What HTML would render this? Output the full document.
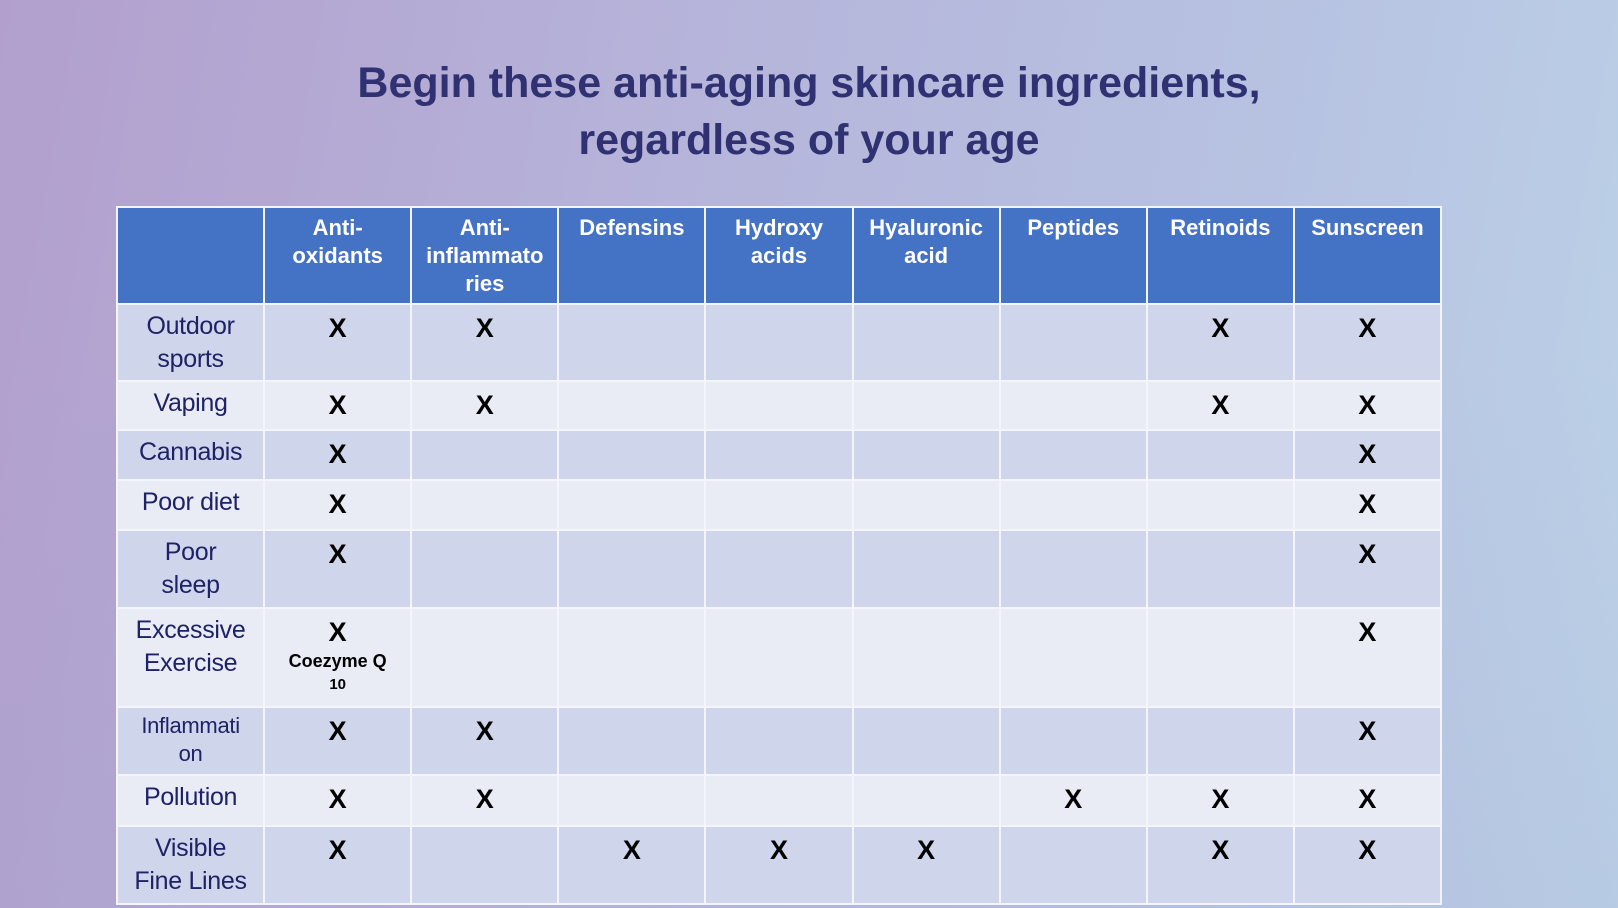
<!DOCTYPE html>
<html><head><meta charset="utf-8"><style>
html,body{margin:0;padding:0;}
body{width:1618px;height:908px;overflow:hidden;position:relative;
background:linear-gradient(100deg,#b29fcd 0%,#b6b4da 40%,#b7c3e2 75%,#bcd2e7 100%);
font-family:"Liberation Sans",sans-serif;}
.ov{position:absolute;inset:0;background:linear-gradient(180deg,rgba(0,0,0,0) 40%,rgba(150,150,200,0.12) 100%);}
h1{position:absolute;left:0;top:55px;width:1618px;margin:0;text-align:center;color:#2f3172;font-size:43px;line-height:57px;font-weight:bold;}
.g{position:absolute;left:116px;top:206px;width:1326px;display:grid;background:#f4f5fb;padding:2px;box-sizing:border-box;
grid-template-columns:repeat(9,1fr);column-gap:2px;row-gap:2px;
grid-template-rows:95px 75px 47px 48px 48px 76px 97px 66px 49px 76px;}
.g>div{text-align:center;box-sizing:border-box;}
.h{background:#4472c4;color:#fff;font-weight:bold;font-size:22px;line-height:28px;padding-top:6px;}
.a>div{background:#cfd5ea;} .b>div{background:#e9ebf5;}
.r{display:contents;}
.l{color:#1e2266;font-size:25px;line-height:33px;padding-top:5px;letter-spacing:-0.3px;}
.x{color:#000;font-weight:bold;font-size:27px;line-height:33px;padding-top:7px;}
.s{font-size:18px;line-height:25px;font-weight:bold;}
.s2{font-size:15px;line-height:22px;font-weight:bold;}
</style></head><body><div class="ov"></div>
<h1>Begin these anti-aging skincare ingredients,<br>regardless of your age</h1>
<div class="g">
<div class="h"></div><div class="h">Anti-<br>oxidants</div><div class="h">Anti-<br>inflammato<br>ries</div><div class="h">Defensins</div><div class="h">Hydroxy<br>acids</div><div class="h">Hyaluronic<br>acid</div><div class="h">Peptides</div><div class="h">Retinoids</div><div class="h">Sunscreen</div>
<div class="r a"><div class="l">Outdoor<br>sports</div><div class="x">X</div><div class="x">X</div><div></div><div></div><div></div><div></div><div class="x">X</div><div class="x">X</div></div>
<div class="r b"><div class="l">Vaping</div><div class="x">X</div><div class="x">X</div><div></div><div></div><div></div><div></div><div class="x">X</div><div class="x">X</div></div>
<div class="r a"><div class="l">Cannabis</div><div class="x">X</div><div></div><div></div><div></div><div></div><div></div><div></div><div class="x">X</div></div>
<div class="r b"><div class="l">Poor diet</div><div class="x">X</div><div></div><div></div><div></div><div></div><div></div><div></div><div class="x">X</div></div>
<div class="r a"><div class="l">Poor<br>sleep</div><div class="x">X</div><div></div><div></div><div></div><div></div><div></div><div></div><div class="x">X</div></div>
<div class="r b"><div class="l">Excessive<br>Exercise</div><div class="x">X<div class="s">Coezyme Q</div><div class="s2">10</div></div><div></div><div></div><div></div><div></div><div></div><div></div><div class="x">X</div></div>
<div class="r a"><div class="l" style="font-size:22px;line-height:28px;padding-top:4px">Inflammati<br>on</div><div class="x">X</div><div class="x">X</div><div></div><div></div><div></div><div></div><div></div><div class="x">X</div></div>
<div class="r b"><div class="l">Pollution</div><div class="x">X</div><div class="x">X</div><div></div><div></div><div></div><div class="x">X</div><div class="x">X</div><div class="x">X</div></div>
<div class="r a"><div class="l">Visible<br>Fine Lines</div><div class="x">X</div><div></div><div class="x">X</div><div class="x">X</div><div class="x">X</div><div></div><div class="x">X</div><div class="x">X</div></div>
</div>
</body></html>
